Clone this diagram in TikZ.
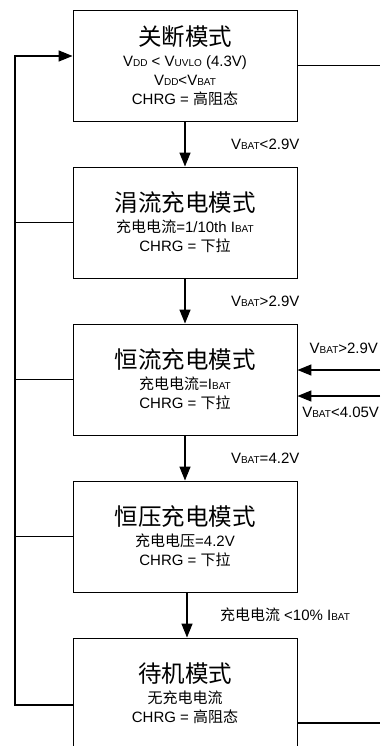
\documentclass[tikz,border=0pt]{standalone}
\usepackage{fontspec}
\setmainfont{Liberation Sans}
\newfontfamily\cjk{Noto Sans CJK SC}
\usetikzlibrary{arrows.meta}
\newcommand\zh[1]{{\cjk #1}}
\newcommand\lo[1]{{\fontsize{10}{10}\selectfont #1}}
\newcommand\ttl[1]{{\fontsize{23.5}{23.5}\selectfont\cjk #1}}

\begin{document}
\begin{tikzpicture} [
    x=1pt, y=1pt,
      block/.style    = { rectangle, draw, line width=0.9pt,
                        minimum width=224pt, minimum height=111pt,
                        align=center, inner sep=0pt,
                        font=\fontsize{15}{19}\selectfont },
    line/.style     = { draw, line width=1.4pt, -{Triangle[length=14pt,width=11pt]} },
    wire/.style     = { draw, line width=1.4pt },
    etiq/.style = { midway, right, xshift=42pt, font=\fontsize{15}{15}\selectfont },
    node distance=157pt,
  ]
\useasboundingbox (0,0) rectangle (380,-746);

\node (off) [block] at (185,-65.5) {\ttl{关断模式}\\[2pt]
  V\lo{DD} < V\lo{UVLO} (4.3V)\\ V\lo{DD}<V\lo{BAT}\\ CHRG = \zh{高阻态}};
\node (trickle) [block,below of = off] {\ttl{涓流充电模式}\\[2pt]
  \zh{充电电流}=1/10th I\lo{BAT}\\ CHRG = \zh{下拉}};
\node (cc) [block,below of = trickle] {\ttl{恒流充电模式}\\[2pt]
  \zh{充电电流}=I\lo{BAT}\\ CHRG = \zh{下拉}};
\node (cv) [block,below of = cc] {\ttl{恒压充电模式}\\[2pt]
  \zh{充电电压}=4.2V\\ CHRG = \zh{下拉}};
\node (standby) [block,below of = cv] {\ttl{待机模式}\\[2pt]
  \zh{无充电电流}\\ CHRG = \zh{高阻态}};

\coordinate (rail) at (15,-56);
\coordinate (redge) at (380,0);
\coordinate (in1) at (380,-370);
\coordinate (in2) at (380,-396);

\begin{scope}[every path/.style=line]
\path (off) -- node[etiq] {V\lo{BAT}<2.9V} (trickle);
\path (trickle) -- node[etiq] {V\lo{BAT}>2.9V} (cc);
\path (cc) -- node[etiq] {V\lo{BAT}=4.2V} (cv);
\path ([xshift=2pt]cv.south) -- node[etiq,xshift=-13pt] {\zh{充电电流} <10\% I\lo{BAT}} ([xshift=2pt]standby.north);
\path ([yshift=-11.5pt]standby.west) -| (rail) -- ([yshift=9.5pt]off.west);
\path (in1) -- node[pos=0,anchor=south east,xshift=2pt,yshift=12pt,font=\fontsize{15}{15}\selectfont] {V\lo{BAT}>2.9V} (in1 -| cc.east);
\path (in2) -- node[pos=0,anchor=north east,xshift=3pt,yshift=-7pt,font=\fontsize{15}{15}\selectfont] {V\lo{BAT}<4.05V} (in2 -| cc.east);
\end{scope}

\foreach \n in {trickle,cc,cv}
  \draw[wire] (\n.west) -- (\n.west -| rail);
\draw[wire] (off.east) -- (off.east -| redge);
\draw[wire] ([yshift=-29.5pt]standby.east) -- ([yshift=-29.5pt]standby.east -| redge);

\end{tikzpicture}
\end{document}
